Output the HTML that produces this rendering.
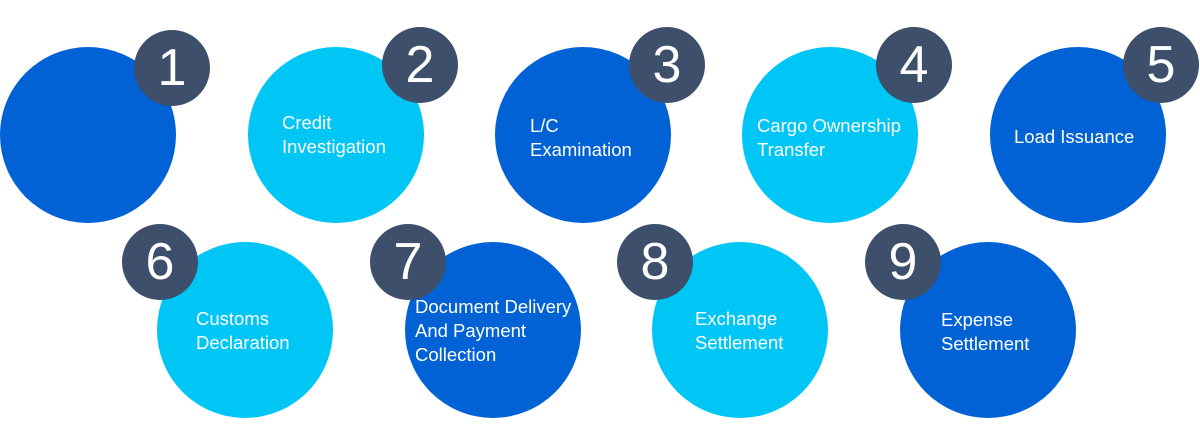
<!DOCTYPE html>
<html><head><style>
body{margin:0;width:1200px;height:448px;background:#fff;position:relative;overflow:hidden;font-family:"Liberation Sans",Arial,sans-serif}
.c{position:absolute;width:176px;height:176px;border-radius:50%}
.d{background:#0062d5}.l{background:#00c6f6}
.b{position:absolute;width:76px;height:76px;border-radius:50%;background:#3d4f6b;color:#fff;font-size:52px;line-height:76px;text-align:center}
.t{position:absolute;color:#fff;font-size:18.5px;line-height:24px;white-space:nowrap}
</style></head><body>
<div class="c d" style="left:0;top:47px"></div>
<div class="c l" style="left:248px;top:47px"></div>
<div class="c d" style="left:495px;top:47px"></div>
<div class="c l" style="left:742px;top:47px"></div>
<div class="c d" style="left:990px;top:47px"></div>
<div class="c l" style="left:157px;top:242px"></div>
<div class="c d" style="left:405px;top:242px"></div>
<div class="c l" style="left:652px;top:242px"></div>
<div class="c d" style="left:900px;top:242px"></div>

<div class="b" style="left:134px;top:30px">1</div>
<div class="b" style="left:382px;top:27px">2</div>
<div class="b" style="left:629px;top:27px">3</div>
<div class="b" style="left:876px;top:27px">4</div>
<div class="b" style="left:1123px;top:27px">5</div>
<div class="b" style="left:122px;top:224px">6</div>
<div class="b" style="left:370px;top:224px">7</div>
<div class="b" style="left:617px;top:224px">8</div>
<div class="b" style="left:865px;top:224px">9</div>

<div class="t" style="left:282px;top:111px">Credit<br>Investigation</div>
<div class="t" style="left:530px;top:114px">L/C<br>Examination</div>
<div class="t" style="left:757px;top:114px">Cargo Ownership<br>Transfer</div>
<div class="t" style="left:1014px;top:125px">Load Issuance</div>
<div class="t" style="left:196px;top:307px">Customs<br>Declaration</div>
<div class="t" style="left:415px;top:295px">Document Delivery<br>And Payment<br>Collection</div>
<div class="t" style="left:695px;top:307px">Exchange<br>Settlement</div>
<div class="t" style="left:941px;top:308px">Expense<br>Settlement</div>
</body></html>
